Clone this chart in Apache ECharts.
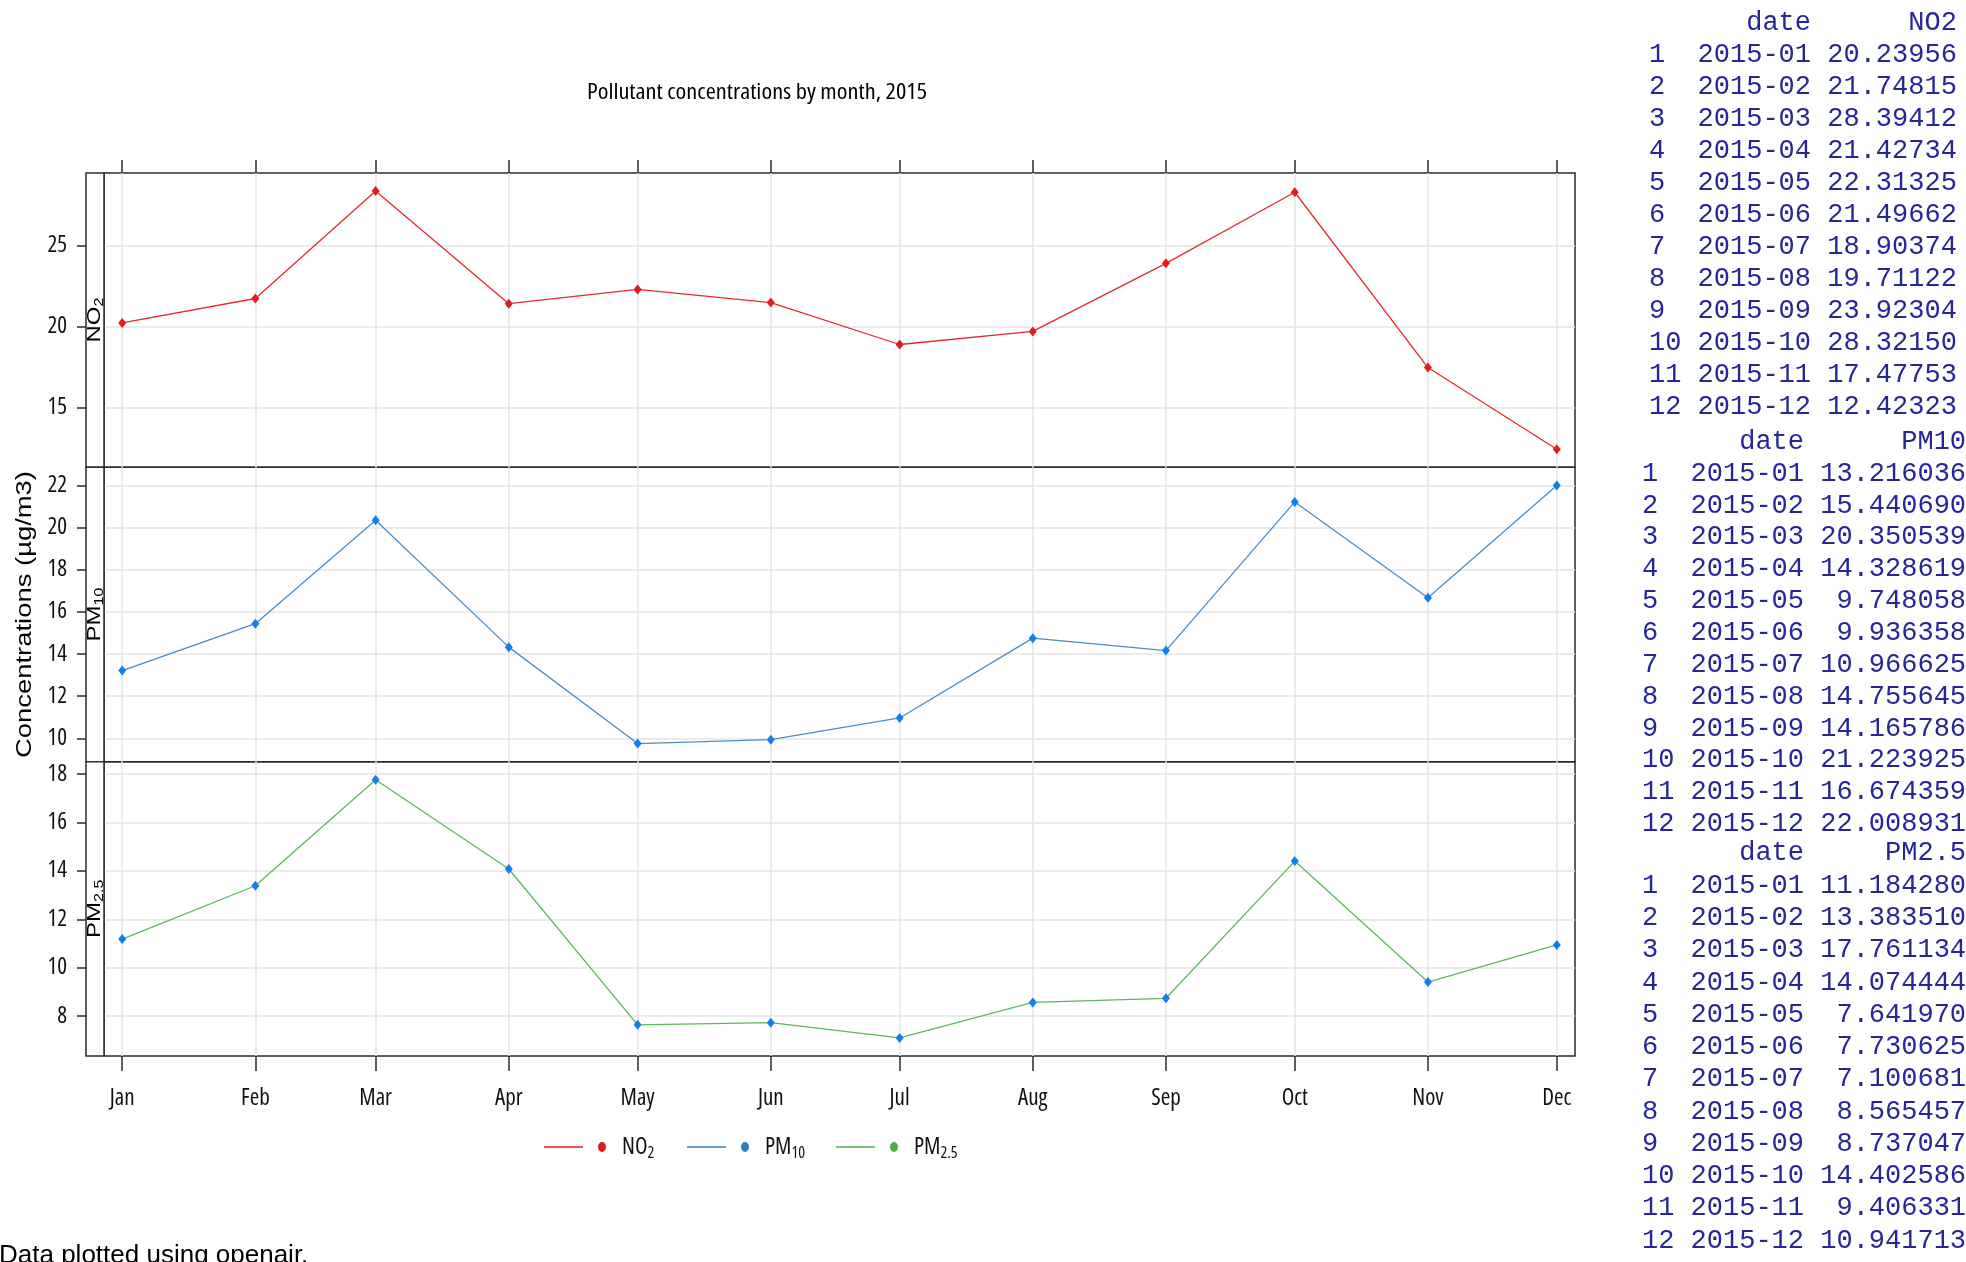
<!DOCTYPE html>
<html>
<head>
<meta charset="utf-8">
<title>Pollutant concentrations by month, 2015</title>
<script src="https://cdn.jsdelivr.net/npm/echarts@6/dist/echarts.min.js"></script>
<style>
  html, body { margin: 0; padding: 0; background: #ffffff; }
  #chart { width: 1966px; height: 1262px; }
</style>
</head>
<body>
<div id="chart"></div>
<script>
// ---- data -------------------------------------------------------------
const monthKeys = ['2015-01', '2015-02', '2015-03', '2015-04', '2015-05', '2015-06',
                   '2015-07', '2015-08', '2015-09', '2015-10', '2015-11', '2015-12'];
const monthLabels = ['Jan', 'Feb', 'Mar', 'Apr', 'May', 'Jun',
                     'Jul', 'Aug', 'Sep', 'Oct', 'Nov', 'Dec'];

const no2 = [20.23956, 21.74815, 28.39412, 21.42734, 22.31325, 21.49662,
             18.90374, 19.71122, 23.92304, 28.32150, 17.47753, 12.42323];
const pm10 = [13.216036, 15.440690, 20.350539, 14.328619, 9.748058, 9.936358,
              10.966625, 14.755645, 14.165786, 21.223925, 16.674359, 22.008931];
const pm25 = [11.184280, 13.383510, 17.761134, 14.074444, 7.641970, 7.730625,
              7.100681, 8.565457, 8.737047, 14.402586, 9.406331, 10.941713];

const no2Ticks = [15, 20, 25];
const pm10Ticks = [10, 12, 14, 16, 18, 20, 22];
const pm25Ticks = [8, 10, 12, 14, 16, 18];

const chartTitle = 'Pollutant concentrations by month, 2015';
const yTitle = 'Concentrations (µg/m3)';
const footnote = 'Data plotted using openair.';

// ---- fonts --------------------------------------------------------------
const SANS = "'Liberation Sans', Arial, sans-serif";
const MONO = "'Liberation Mono', 'Courier New', monospace";

const probe = document.createElement('canvas').getContext('2d');
function measure(stretch, family, text, size) {
  probe.font = '10px serif';
  probe.font = (stretch ? stretch + ' ' : '') + (size || 40) + 'px ' + family;
  if (probe.font === '10px serif') return null;
  return probe.measureText(text).width;
}

// pick the narrowest usable sans face for axis text
const sample = 'Jan Feb Mar Apr 25 20 15 Pollutant concentrations';
const baseWidth = measure('', SANS, sample);
const narrowCandidates = [
  { stretch: '', family: "'Liberation Sans Narrow', sans-serif" },
  { stretch: '', family: "'Arial Narrow', sans-serif" },
  { stretch: '', family: "'Noto Sans Condensed', sans-serif" },
  { stretch: '', family: "'Noto Sans SemiCondensed', sans-serif" },
  { stretch: 'condensed', family: "'Noto Sans', sans-serif" },
  { stretch: 'semi-condensed', family: "'Noto Sans', sans-serif" },
  { stretch: 'condensed', family: "'Open Sans', sans-serif" },
  { stretch: '', family: "'Open Sans Condensed', sans-serif" },
  { stretch: 'condensed', family: "'Roboto', sans-serif" },
  { stretch: '', family: "'Roboto Condensed', sans-serif" },
  { stretch: 'condensed', family: "'DejaVu Sans', sans-serif" }
];
let narrow = { stretch: '', family: SANS, ratio: 1 };
narrowCandidates.forEach(c => {
  const w = measure(c.stretch, c.family, sample);
  if (!w) return;
  const r = w / baseWidth;
  if (r > 0.5 && r < 0.95 && Math.abs(r - 0.68) < Math.abs(narrow.ratio - 0.68)) {
    narrow = { stretch: c.stretch, family: c.family, ratio: r };
  }
});
const NARROW = narrow.family;
const NARROW_W = narrow.stretch || 'normal';
const AXIS_FS = narrow.ratio < 0.95 ? 23 : 21;

// ---- styling ------------------------------------------------------------
const FRAME = '#2b2b2b';
const GRIDLINE = '#e4e4e4';
const TEXT = '#111111';
const TABLE_INK = '#26269a';

// plot frame (pixels)
const stripLeft = 86, plotLeft = 104, plotRight = 1575, plotTop = 173, plotBottom = 1056;
const panelH = (plotBottom - plotTop) / 3;

// month starts as timestamps (ms, UTC) on a linear axis
const monthTimes = monthKeys.map(k => Date.UTC(+k.slice(0, 4), +k.slice(5, 7) - 1, 1));
const span = monthTimes[monthTimes.length - 1] - monthTimes[0];
const xMin = monthTimes[0] - span * 0.0127;
const xMax = monthTimes[monthTimes.length - 1] + span * 0.0127;

function padRange(values) {
  const lo = Math.min(...values), hi = Math.max(...values);
  const p = (hi - lo) * 0.07;
  return [lo - p, hi + p];
}

const panels = [
  { name: 'NO2', main: 'NO', sub: '2', values: no2, ticks: no2Ticks,
    line: '#E8282B', marker: '#E41A1C', key: '#E41A1C', legendLeft: 544 },
  { name: 'PM10', main: 'PM', sub: '10', values: pm10, ticks: pm10Ticks,
    line: '#4A8CC8', marker: '#0F7FEA', key: '#377EB8', legendLeft: 687 },
  { name: 'PM2.5', main: 'PM', sub: '2.5', values: pm25, ticks: pm25Ticks,
    line: '#5DB85A', marker: '#0F7FEA', key: '#4DAF4A', legendLeft: 836 }
];

// legend key: short line, gap, dot
const keyIcon = 'path://M0,4.2L39,4.2L39,5.8L0,5.8Z M54,5A4,5 0 1,0 62,5A4,5 0 1,0 54,5Z';

const grids = [], xAxes = [], yAxes = [], series = [], legends = [], graphics = [];

panels.forEach((p, i) => {
  const top = plotTop + i * panelH;
  grids.push({
    left: plotLeft, width: plotRight - plotLeft, top: top, height: panelH,
    show: true, borderColor: FRAME, borderWidth: 1.5, backgroundColor: 'transparent'
  });

  xAxes.push({
    type: 'value', gridIndex: i, min: xMin, max: xMax,
    position: i === 0 ? 'top' : 'bottom',
    axisLine: { show: false },
    axisTick: {
      show: i !== 1, inside: false, length: i === 0 ? 13 : 15,
      customValues: monthTimes, lineStyle: { color: FRAME, width: 1.5 }
    },
    axisLabel: {
      show: i === 2, customValues: monthTimes, margin: 31,
      fontFamily: NARROW, fontWeight: NARROW_W, fontSize: AXIS_FS, color: TEXT,
      formatter: v => monthLabels[new Date(v).getUTCMonth()]
    },
    splitLine: { show: true, lineStyle: { color: GRIDLINE, width: 1.5 } }
  });

  const [lo, hi] = padRange(p.values);
  yAxes.push({
    type: 'value', gridIndex: i, min: lo, max: hi,
    position: 'left', offset: plotLeft - stripLeft,
    axisLine: { show: false },
    axisTick: { show: true, length: 9, customValues: p.ticks, lineStyle: { color: FRAME, width: 1.5 } },
    axisLabel: {
      customValues: p.ticks, margin: 19, padding: [6, 0, 0, 0],
      fontFamily: NARROW, fontWeight: NARROW_W, fontSize: AXIS_FS, color: TEXT
    },
    splitLine: { show: true, lineStyle: { color: GRIDLINE, width: 1.5 } }
  });

  series.push({
    type: 'line', name: p.name, xAxisIndex: i, yAxisIndex: i,
    data: monthTimes.map((t, j) => [t, p.values[j]]),
    symbol: 'diamond', symbolSize: [8, 10],
    lineStyle: { color: p.line, width: 1.3 },
    itemStyle: { color: p.marker, borderWidth: 0 },
    emphasis: { disabled: true }, silent: true, z: 3
  });

  legends.push({
    show: true, left: p.legendLeft, top: 1133, padding: 0, selectedMode: false,
    itemWidth: 62, itemHeight: 10,
    data: [{ name: p.name, icon: keyIcon, itemStyle: { color: p.key, borderWidth: 0 } }],
    formatter: () => '{g| }' + p.main + '{s|' + p.sub + '}',
    textStyle: {
      fontFamily: NARROW, fontWeight: NARROW_W, fontSize: AXIS_FS, color: TEXT, lineHeight: 28,
      rich: {
        g: { width: 11, fontSize: 10, lineHeight: 12 },
        s: { fontFamily: NARROW, fontWeight: NARROW_W, fontSize: 16, lineHeight: 12,
             verticalAlign: 'bottom', color: TEXT }
      }
    }
  });

  // strip box with the pollutant name, read bottom to top
  graphics.push({
    type: 'rect', z: 10,
    shape: { x: stripLeft, y: top, width: plotLeft - stripLeft, height: panelH },
    style: { fill: '#ffffff', stroke: FRAME, lineWidth: 1.5 }
  });
  const wMain = measure('', SANS, p.main, 24);
  const wSub = measure('', SANS, p.sub, 16);
  const start = -(wMain + wSub) / 2;
  graphics.push({
    type: 'group', z: 11, x: 94.5, y: top + panelH / 2, rotation: Math.PI / 2, scaleY: 0.78,
    children: [
      { type: 'text', z: 11, x: start, y: 0,
        style: { text: p.main, fontFamily: SANS, fontSize: 24, fill: '#000',
                 align: 'left', verticalAlign: 'middle', textAlign: 'left', textVerticalAlign: 'middle' } },
      { type: 'text', z: 11, x: start + wMain, y: 6,
        style: { text: p.sub, fontFamily: SANS, fontSize: 16, fill: '#000',
                 align: 'left', verticalAlign: 'middle', textAlign: 'left', textVerticalAlign: 'middle' } }
    ]
  });
});

// axis title: stretched along its length to the panel span it covers
const yTitleScale = 287 / measure('', SANS, yTitle, 27);
graphics.push({
  type: 'text', x: 25, y: (plotTop + plotBottom) / 2, rotation: Math.PI / 2,
  scaleX: yTitleScale, scaleY: 0.8,
  style: {
    text: yTitle, fontFamily: SANS, fontSize: 27, fill: '#000',
    align: 'center', verticalAlign: 'middle', textAlign: 'center', textVerticalAlign: 'middle'
  }
});

// chart title
const titleScale = 340 / measure(narrow.stretch, NARROW, chartTitle, 22);
graphics.push({
  type: 'text', x: 757, y: 93, scaleX: titleScale,
  style: {
    text: chartTitle, fontFamily: NARROW, fontWeight: NARROW_W, fontSize: 22, fill: '#000',
    align: 'center', verticalAlign: 'middle', textAlign: 'center', textVerticalAlign: 'middle'
  }
});

// footnote
graphics.push({
  type: 'text', x: -1, y: 1256,
  style: {
    text: footnote, fontFamily: SANS, fontSize: 26, fill: '#000',
    align: 'left', verticalAlign: 'middle', textAlign: 'left', textVerticalAlign: 'middle'
  }
});

// console-style printout of the monthly means
function printout(col, values, digits, width) {
  const lines = ['date'.padStart(10) + ' ' + col.padStart(width)];
  values.forEach((v, j) => {
    lines.push(String(j + 1).padEnd(2) + ' ' + monthKeys[j] + ' ' + v.toFixed(digits).padStart(width));
  });
  return lines.join('\n');
}
const tables = [
  { text: printout('NO2', no2, 5, 8), x: 1649, firstRow: 22.7, pitch: 32 },
  { text: printout('PM10', pm10, 6, 9), x: 1642, firstRow: 441.7, pitch: 31.85 },
  { text: printout('PM2.5', pm25, 6, 9), x: 1642, firstRow: 853.3, pitch: 32.27 }
];
tables.forEach(t => {
  graphics.push({
    type: 'text', x: t.x, y: t.firstRow - t.pitch / 2,
    style: {
      text: t.text, fontFamily: MONO, fontSize: 27, lineHeight: t.pitch, fill: TABLE_INK,
      align: 'left', verticalAlign: 'top', textAlign: 'left', textVerticalAlign: 'top'
    }
  });
});

const chart = echarts.init(document.getElementById('chart'), null, { renderer: 'canvas' });
chart.setOption({
  backgroundColor: '#ffffff',
  animation: false,
  grid: grids,
  xAxis: xAxes,
  yAxis: yAxes,
  legend: legends,
  series: series,
  graphic: graphics
});
</script>
</body>
</html>
